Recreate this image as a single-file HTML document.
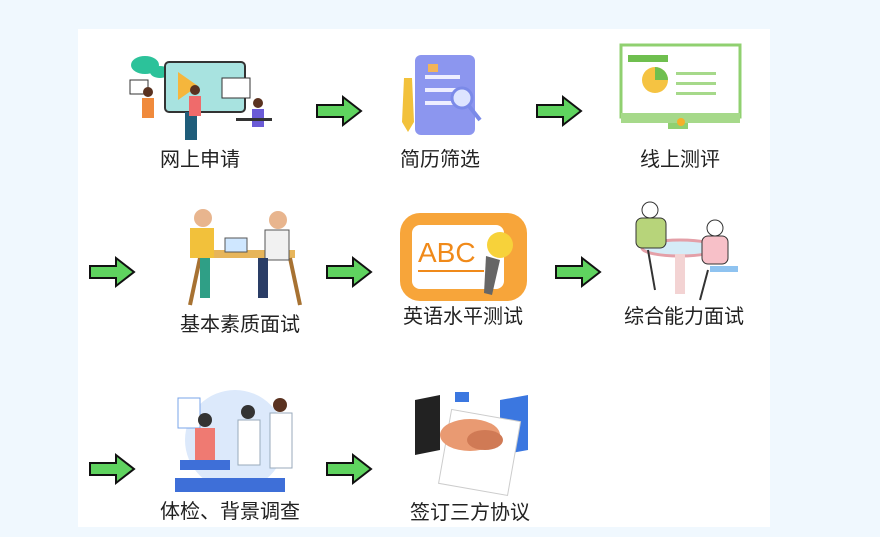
<!DOCTYPE html>
<html><head><meta charset="utf-8"><style>
html,body{margin:0;padding:0;}
body{width:880px;height:537px;background:#f0f8fe;position:relative;overflow:hidden;font-family:"Liberation Sans","Noto Sans CJK SC",sans-serif;}
.panel{position:absolute;left:78px;top:29px;width:692px;height:498px;background:#fff;}
.lbl{position:absolute;font-size:20px;color:#222;transform:translateX(-50%);white-space:nowrap;line-height:20px;}
svg{position:absolute;left:0;top:0;}
</style></head><body>
<div class="panel"></div>
<svg width="880" height="537">
<defs>
<g id="ar"><polygon points="0,8 26,8 26,0 44,14 26,28 26,20 0,20" fill="#5fd35f" stroke="#111" stroke-width="2" stroke-linejoin="miter"/></g>
</defs>
<use href="#ar" x="317" y="97"/>
<use href="#ar" x="537" y="97"/>
<use href="#ar" x="90" y="258"/>
<use href="#ar" x="327" y="258"/>
<use href="#ar" x="556" y="258"/>
<use href="#ar" x="90" y="455"/>
<use href="#ar" x="327" y="455"/>

<ellipse cx="145" cy="65" rx="14" ry="9" fill="#2cc29a"/>
<ellipse cx="160" cy="72" rx="10" ry="6" fill="#2cc29a"/>
<rect x="165" y="62" width="80" height="50" rx="4" fill="#a8e3e0" stroke="#333" stroke-width="2"/>
<polygon points="178,72 198,86 178,100" fill="#f5b63c"/>
<rect x="222" y="78" width="28" height="20" fill="#fff" stroke="#333"/>
<rect x="130" y="80" width="18" height="14" fill="#fff" stroke="#333"/>
<rect x="185" y="112" width="12" height="28" fill="#1f5d7a"/>
<circle cx="148" cy="92" r="5" fill="#5a3220"/><rect x="142" y="98" width="12" height="20" fill="#f08a3c"/>
<circle cx="195" cy="90" r="5" fill="#5a3220"/><rect x="189" y="96" width="12" height="20" fill="#ef6b6b"/>
<circle cx="258" cy="103" r="5" fill="#5a3220"/><rect x="252" y="109" width="12" height="18" fill="#6b5bd6"/>
<rect x="236" y="118" width="36" height="3" fill="#333"/>
<rect x="415" y="55" width="60" height="80" rx="6" fill="#8c96ef"/>
<rect x="425" y="75" width="35" height="4" fill="#eef"/><rect x="425" y="88" width="35" height="4" fill="#eef"/><rect x="425" y="101" width="30" height="4" fill="#eef"/>
<rect x="428" y="64" width="10" height="8" fill="#f2b45a"/>
<circle cx="462" cy="98" r="10" fill="#dde4ff" stroke="#7b8ae8" stroke-width="3"/>
<line x1="469" y1="106" x2="480" y2="120" stroke="#7b8ae8" stroke-width="4"/>
<polygon points="404,78 412,78 414,122 408,132 402,122" fill="#f2c13b"/>
<rect x="621" y="45" width="119" height="72" fill="#fff" stroke="#90d070" stroke-width="3"/>
<rect x="621" y="113" width="119" height="10" fill="#a6d98a"/>
<rect x="668" y="123" width="20" height="6" fill="#90d070"/>
<circle cx="681" cy="122" r="4" fill="#f5b12a"/>
<rect x="628" y="55" width="40" height="7" fill="#6fbf4f"/>
<circle cx="655" cy="80" r="13" fill="#f5c342"/><path d="M655,80 L655,67 A13,13 0 0 1 668,80 Z" fill="#6fbf4f"/>
<rect x="676" y="72" width="40" height="3" fill="#a6d98a"/><rect x="676" y="82" width="40" height="3" fill="#a6d98a"/><rect x="676" y="92" width="40" height="3" fill="#a6d98a"/>
<rect x="195" y="250" width="100" height="8" fill="#e7b55a"/>
<line x1="200" y1="258" x2="190" y2="305" stroke="#a77232" stroke-width="4"/>
<line x1="290" y1="258" x2="300" y2="305" stroke="#a77232" stroke-width="4"/>
<circle cx="203" cy="218" r="9" fill="#e8b58e"/><rect x="190" y="228" width="24" height="30" fill="#f2c13b"/>
<rect x="200" y="258" width="10" height="40" fill="#2f9f86"/>
<circle cx="278" cy="220" r="9" fill="#e8b58e"/><rect x="265" y="230" width="24" height="30" fill="#f1f1f1" stroke="#555"/>
<rect x="258" y="258" width="10" height="40" fill="#2a3d66"/>
<rect x="225" y="238" width="22" height="14" fill="#cfe7ff" stroke="#555"/>
<rect x="400" y="213" width="127" height="88" rx="20" fill="#f7a53a"/>
<rect x="412" y="225" width="92" height="64" rx="8" fill="#fff"/>
<text x="418" y="262" font-family="Liberation Sans" font-size="28" fill="#f08a1a">ABC</text>
<rect x="418" y="270" width="66" height="2" fill="#f08a1a"/>
<circle cx="500" cy="245" r="13" fill="#f7d23a"/>
<polygon points="486,256 500,260 492,295 484,293" fill="#666"/>
<ellipse cx="680" cy="248" rx="38" ry="8" fill="#d5ecf7" stroke="#e4a0a8" stroke-width="3"/>
<rect x="675" y="254" width="10" height="40" fill="#f3d3d3"/>
<circle cx="650" cy="210" r="8" fill="#fff" stroke="#333"/><rect x="636" y="218" width="30" height="30" rx="6" fill="#b7d47a" stroke="#333"/>
<line x1="648" y1="250" x2="655" y2="290" stroke="#333" stroke-width="2"/>
<circle cx="715" cy="228" r="8" fill="#fff" stroke="#333"/><rect x="702" y="236" width="26" height="28" rx="6" fill="#f7c0c8" stroke="#333"/>
<rect x="710" y="266" width="28" height="6" fill="#8fc3f0"/>
<line x1="708" y1="270" x2="700" y2="300" stroke="#333" stroke-width="2"/>
<circle cx="235" cy="440" r="50" fill="#dce9fb"/>
<rect x="178" y="398" width="22" height="30" fill="#fff" stroke="#7aa4e8"/>
<circle cx="205" cy="420" r="7" fill="#333"/><rect x="195" y="428" width="20" height="35" fill="#ef7a72"/>
<rect x="180" y="460" width="50" height="10" fill="#3e6fd8"/>
<circle cx="248" cy="412" r="7" fill="#333"/><rect x="238" y="420" width="22" height="45" fill="#fff" stroke="#9ab"/>
<circle cx="280" cy="405" r="7" fill="#5a3220"/><rect x="270" y="413" width="22" height="55" fill="#fff" stroke="#9ab"/>
<rect x="175" y="478" width="110" height="14" fill="#3e6fd8"/>
<polygon points="415,400 440,395 440,450 415,455" fill="#222"/>
<polygon points="500,400 528,395 528,450 500,455" fill="#3b77e0"/>
<rect x="445" y="415" width="70" height="75" fill="#fff" stroke="#ccc" transform="rotate(10 480 450)"/>
<rect x="455" y="392" width="14" height="10" fill="#3b77e0"/>
<ellipse cx="470" cy="435" rx="30" ry="16" fill="#e99a72"/>
<ellipse cx="485" cy="440" rx="18" ry="10" fill="#d07a55"/>
</svg>
<div class="lbl" style="left:200px;top:150px">网上申请</div>
<div class="lbl" style="left:440px;top:150px">简历筛选</div>
<div class="lbl" style="left:680px;top:150px">线上测评</div>
<div class="lbl" style="left:240px;top:315px">基本素质面试</div>
<div class="lbl" style="left:463px;top:307px">英语水平测试</div>
<div class="lbl" style="left:684px;top:307px">综合能力面试</div>
<div class="lbl" style="left:230px;top:502px">体检、背景调查</div>
<div class="lbl" style="left:470px;top:503px">签订三方协议</div>
</body></html>
